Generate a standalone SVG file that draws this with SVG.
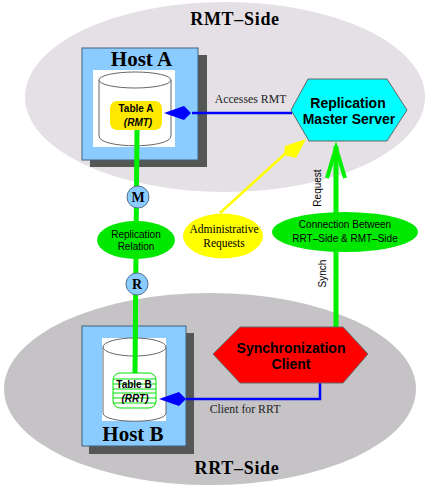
<svg xmlns="http://www.w3.org/2000/svg" width="427" height="489" viewBox="0 0 427 489">
<style>
.se{font-family:"Liberation Serif",serif}
.sa{font-family:"Liberation Sans",Arial,sans-serif}
text{text-anchor:middle;fill:#000}
.side{font-size:18px;font-weight:bold;letter-spacing:.7px}
.host{font-size:21px;font-weight:bold}
.lab{font-size:11.800px;fill:#222}
.cyl{fill:#fff;stroke:#666;stroke-width:1}
.shadow{fill:#555755}
.hostbox{fill:#8accff;stroke:#44607a;stroke-width:1}
.hex{stroke:#666;stroke-width:1}
.big{font-size:14px;font-weight:bold}
.grn{stroke:#00f000;stroke-width:5;fill:none}
.blu{stroke:#0000ff;stroke-width:2.500;fill:none}
.circ{fill:#8accff;stroke:#55708a;stroke-width:1}
.ltr{font-size:14px;font-weight:bold}
.small{font-size:10px}
.st{stroke:#00e000;stroke-width:1}
</style>
<rect width="427" height="489" fill="#fff"/>
<g id="rmt-side">
<ellipse cx="225" cy="97" rx="200" ry="95" fill="#e4e0e6"/>
<text class="se side" x="235" y="25">RMT–Side</text>
</g>
<g id="rrt-side">
<ellipse cx="210" cy="389" rx="206" ry="96" fill="#c5c3c6"/>
<text class="se side" x="237" y="474">RRT–Side</text>
</g>
<g id="host-a">
<rect class="shadow" x="90" y="55" width="117" height="112"/>
<rect class="hostbox" x="82" y="48" width="116" height="112"/>
<text class="se host" x="141.500" y="66">Host A</text>
<rect x="93" y="70" width="82" height="77" fill="#fff"/>
<path class="cyl" d="M99 80V136C99 149 171 149 171 136V80"/>
<ellipse class="cyl" cx="135" cy="80" rx="36" ry="8"/>
</g>
<g id="host-b">
<rect class="shadow" x="89" y="333" width="105" height="121"/>
<rect class="hostbox" x="82" y="326" width="104" height="120"/>
<text class="se host" x="133" y="441">Host B</text>
<rect x="102" y="338" width="64" height="83" fill="#fff"/>
<path class="cyl" d="M103 347V413C103 424 166 424 166 413V347"/>
<ellipse class="cyl" cx="134.500" cy="347" rx="31.500" ry="9"/>
</g>
<g id="connectors">
<path class="grn" d="M137 130L135 373"/>
<path class="grn" d="M336 327V146"/>
<path class="grn" d="M327 178L336 148L345 178" style="stroke-width:4"/>
<path d="M192 113H292" class="blu"/>
<path d="M164 113L184 106L191 113L184 120Z" fill="#0000ff"/>
<path d="M186 399H320V367" class="blu"/>
<path d="M159 399L179 392L186 399L179 406Z" fill="#0000ff"/>
<path d="M220 213L287 152" stroke="#ffff00" stroke-width="2.500" fill="none"/>
<path d="M306 139L285 146L284 155L296 158Z" fill="#ffff00"/>
</g>
<g id="table-a">
<rect x="110" y="101" width="52" height="29" rx="7" fill="#ffe800"/>
<text class="sa small" font-weight="bold" x="136" y="112">Table A</text>
<text class="sa small" font-weight="bold" font-style="italic" x="138" y="126">(RMT)</text>
</g>
<g id="table-b">
<rect x="113" y="373" width="43" height="35" rx="7" fill="#fff" stroke="#00e000"/>
<path class="st" d="M113 379H156M113 384H156M113 389H156M113 393H156M113 398H156M113 403H156"/>
<text class="sa small" font-weight="bold" x="134" y="388">Table B</text>
<text class="sa small" font-weight="bold" font-style="italic" x="135" y="402">(RRT)</text>
</g>
<g id="replication-master-server">
<path class="hex" d="M291 110L308 79H387L407 110L387 141H309Z" fill="#00ffff"/>
<text class="sa big" x="348" y="108">Replication</text>
<text class="sa big" x="349" y="123.500">Master Server</text>
</g>
<g id="synchronization-client">
<path class="hex" d="M213 354L240 327H343L368 354L343 383H240Z" fill="#ff0000"/>
<text class="sa big" x="291" y="352.500">Synchronization</text>
<text class="sa big" x="291" y="368.500">Client</text>
</g>
<g id="m"><circle class="circ" cx="138" cy="197" r="11"/><text class="se ltr" x="138" y="202">M</text></g>
<g id="r"><circle class="circ" cx="137" cy="284" r="11"/><text class="se ltr" x="137" y="289">R</text></g>
<g id="replication-relation">
<ellipse cx="136" cy="240" rx="39" ry="19" fill="#00e800"/>
<text class="sa small" x="136" y="238">Replication</text>
<text class="sa small" x="136" y="250">Relation</text>
</g>
<g id="administrative-requests">
<ellipse cx="223" cy="236" rx="40" ry="22.500" fill="#ffff00"/>
<text class="se" font-size="11.500" x="224" y="233">Administrative</text>
<text class="se" font-size="11.500" x="224" y="246.500">Requests</text>
</g>
<g id="connection">
<ellipse cx="345" cy="232" rx="73" ry="20" fill="#00e800"/>
<text class="sa small" x="345" y="228">Connection Between</text>
<text class="sa small" x="345" y="242">RRT–Side &amp; RMT–Side</text>
</g>
<g id="labels">
<text class="se lab" x="250.500" y="103">Accesses RMT</text>
<text class="se lab" x="245" y="413">Client for RRT</text>
<text class="sa small" transform="translate(321 188) rotate(-90)">Request</text>
<text class="sa small" transform="translate(326 273.500) rotate(-90)">Synch</text>
</g>
</svg>
